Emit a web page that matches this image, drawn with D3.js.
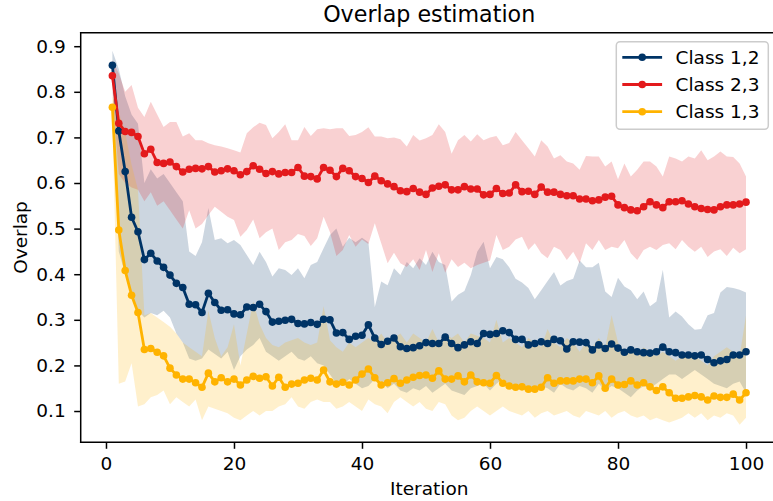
<!DOCTYPE html>
<html>
<head>
<meta charset="utf-8">
<script src="https://cdn.jsdelivr.net/npm/d3@7"></script>
<style>
  body { margin: 0; background: #fff; }
  svg { display: block; }
  text { font-family: "DejaVu Sans", sans-serif; fill: #000; }
</style>
</head>
<body>
<svg id="chart" width="773" height="501"></svg>
<script>
// Iteration index 1..100
const iterations = d3.range(1, 101);

// Class 1,2 — mean overlap and spread
const overlap12 = [0.858,0.714,0.625,0.525,0.493,0.432,0.446,0.429,0.415,0.398,0.380,0.371,0.334,0.333,0.316,0.358,0.338,0.321,0.322,0.313,0.311,0.328,0.327,0.334,0.318,0.295,0.297,0.299,0.301,0.292,0.291,0.294,0.290,0.301,0.300,0.271,0.272,0.257,0.264,0.266,0.289,0.260,0.246,0.253,0.260,0.241,0.237,0.239,0.243,0.250,0.248,0.248,0.262,0.248,0.239,0.245,0.252,0.248,0.270,0.268,0.270,0.276,0.272,0.257,0.257,0.245,0.248,0.252,0.248,0.257,0.254,0.236,0.252,0.251,0.250,0.234,0.245,0.237,0.247,0.238,0.229,0.234,0.230,0.228,0.227,0.230,0.240,0.230,0.228,0.223,0.223,0.221,0.223,0.213,0.206,0.210,0.213,0.223,0.223,0.230];
const upper12 = [0.890,0.850,0.790,0.750,0.730,0.600,0.630,0.610,0.620,0.600,0.580,0.560,0.450,0.440,0.470,0.545,0.475,0.479,0.468,0.475,0.464,0.442,0.420,0.449,0.427,0.395,0.413,0.409,0.398,0.413,0.391,0.420,0.427,0.457,0.486,0.500,0.460,0.480,0.470,0.480,0.470,0.328,0.384,0.376,0.413,0.398,0.427,0.413,0.435,0.420,0.449,0.427,0.420,0.340,0.355,0.363,0.398,0.449,0.471,0.413,0.438,0.433,0.415,0.390,0.382,0.370,0.345,0.365,0.385,0.405,0.375,0.385,0.390,0.430,0.415,0.415,0.425,0.362,0.350,0.392,0.373,0.365,0.345,0.362,0.330,0.340,0.410,0.305,0.318,0.307,0.290,0.278,0.280,0.310,0.315,0.360,0.372,0.370,0.366,0.360];
const lower12 = [0.830,0.450,0.400,0.350,0.320,0.305,0.315,0.310,0.320,0.305,0.270,0.250,0.215,0.210,0.215,0.235,0.225,0.215,0.230,0.190,0.220,0.235,0.245,0.260,0.230,0.220,0.210,0.220,0.230,0.215,0.210,0.220,0.205,0.200,0.180,0.160,0.155,0.170,0.160,0.150,0.155,0.170,0.165,0.150,0.160,0.145,0.140,0.150,0.145,0.155,0.140,0.150,0.160,0.145,0.140,0.135,0.150,0.155,0.160,0.145,0.160,0.170,0.150,0.160,0.150,0.140,0.145,0.155,0.150,0.140,0.160,0.150,0.145,0.155,0.150,0.140,0.160,0.145,0.155,0.150,0.140,0.130,0.145,0.155,0.150,0.160,0.170,0.180,0.180,0.170,0.180,0.190,0.180,0.170,0.160,0.155,0.150,0.160,0.165,0.140];

// Class 2,3 — mean overlap and spread
const overlap23 = [0.835,0.731,0.713,0.711,0.702,0.664,0.674,0.645,0.643,0.646,0.636,0.624,0.630,0.632,0.631,0.636,0.624,0.627,0.631,0.627,0.618,0.625,0.638,0.630,0.621,0.625,0.620,0.623,0.623,0.634,0.615,0.614,0.609,0.634,0.628,0.614,0.632,0.627,0.614,0.610,0.601,0.615,0.605,0.598,0.592,0.583,0.581,0.588,0.580,0.575,0.589,0.593,0.596,0.585,0.585,0.592,0.587,0.587,0.574,0.575,0.588,0.577,0.578,0.596,0.581,0.582,0.575,0.591,0.580,0.580,0.575,0.572,0.572,0.565,0.565,0.561,0.563,0.569,0.571,0.552,0.546,0.541,0.539,0.548,0.559,0.552,0.546,0.559,0.559,0.561,0.554,0.548,0.544,0.542,0.541,0.548,0.552,0.552,0.554,0.558];
const upper23 = [0.870,0.840,0.800,0.815,0.765,0.745,0.778,0.750,0.723,0.734,0.734,0.702,0.709,0.694,0.694,0.687,0.683,0.680,0.676,0.672,0.667,0.709,0.722,0.732,0.727,0.698,0.712,0.729,0.694,0.694,0.723,0.703,0.718,0.720,0.718,0.720,0.720,0.703,0.705,0.712,0.722,0.702,0.702,0.698,0.700,0.696,0.680,0.705,0.693,0.698,0.705,0.729,0.712,0.664,0.694,0.705,0.691,0.707,0.694,0.700,0.703,0.683,0.688,0.712,0.694,0.676,0.658,0.694,0.680,0.654,0.661,0.647,0.643,0.629,0.659,0.658,0.658,0.636,0.647,0.608,0.643,0.614,0.629,0.647,0.647,0.636,0.614,0.658,0.654,0.647,0.658,0.654,0.672,0.650,0.658,0.669,0.658,0.657,0.643,0.614];
const lower23 = [0.800,0.620,0.600,0.590,0.585,0.560,0.580,0.550,0.560,0.540,0.520,0.500,0.540,0.500,0.510,0.530,0.548,0.537,0.526,0.519,0.482,0.497,0.520,0.479,0.492,0.500,0.453,0.470,0.475,0.488,0.484,0.462,0.479,0.526,0.492,0.440,0.453,0.486,0.460,0.476,0.466,0.512,0.468,0.424,0.447,0.424,0.416,0.433,0.409,0.453,0.405,0.446,0.403,0.433,0.416,0.425,0.413,0.420,0.425,0.430,0.486,0.453,0.460,0.476,0.482,0.453,0.468,0.446,0.435,0.460,0.453,0.431,0.449,0.424,0.468,0.453,0.475,0.453,0.460,0.457,0.475,0.446,0.431,0.453,0.460,0.453,0.464,0.468,0.455,0.475,0.460,0.449,0.460,0.438,0.450,0.455,0.440,0.458,0.446,0.455];

// Class 1,3 — mean overlap and spread
const overlap13 = [0.766,0.497,0.408,0.354,0.316,0.235,0.237,0.229,0.221,0.194,0.179,0.170,0.170,0.162,0.152,0.183,0.164,0.173,0.164,0.170,0.157,0.168,0.176,0.172,0.175,0.155,0.174,0.152,0.159,0.161,0.168,0.172,0.168,0.190,0.164,0.159,0.163,0.157,0.168,0.181,0.192,0.173,0.157,0.162,0.171,0.161,0.168,0.174,0.178,0.179,0.172,0.188,0.170,0.170,0.177,0.164,0.179,0.164,0.162,0.161,0.178,0.161,0.155,0.152,0.153,0.148,0.148,0.152,0.173,0.161,0.166,0.166,0.166,0.170,0.170,0.162,0.177,0.150,0.170,0.157,0.158,0.166,0.157,0.162,0.153,0.145,0.153,0.140,0.128,0.128,0.131,0.134,0.131,0.124,0.133,0.130,0.130,0.137,0.124,0.140];
const upper13 = [0.790,0.755,0.710,0.640,0.585,0.310,0.315,0.305,0.295,0.285,0.270,0.250,0.240,0.230,0.220,0.320,0.260,0.220,0.240,0.290,0.200,0.270,0.340,0.290,0.260,0.245,0.240,0.250,0.255,0.260,0.250,0.245,0.250,0.330,0.255,0.240,0.230,0.250,0.240,0.250,0.260,0.250,0.270,0.250,0.260,0.270,0.250,0.270,0.260,0.250,0.280,0.250,0.270,0.260,0.270,0.250,0.270,0.265,0.260,0.250,0.300,0.250,0.260,0.250,0.240,0.260,0.250,0.240,0.280,0.250,0.240,0.260,0.250,0.230,0.250,0.240,0.260,0.240,0.310,0.250,0.230,0.240,0.220,0.240,0.230,0.220,0.230,0.220,0.210,0.220,0.230,0.220,0.210,0.200,0.220,0.230,0.240,0.230,0.220,0.310];
const lower13 = [0.740,0.160,0.165,0.205,0.110,0.115,0.130,0.135,0.145,0.115,0.130,0.120,0.110,0.125,0.080,0.110,0.105,0.100,0.095,0.085,0.080,0.090,0.100,0.090,0.100,0.100,0.110,0.115,0.130,0.110,0.105,0.120,0.125,0.120,0.120,0.105,0.110,0.120,0.110,0.100,0.125,0.115,0.110,0.095,0.120,0.130,0.120,0.110,0.120,0.105,0.100,0.120,0.115,0.090,0.080,0.085,0.100,0.110,0.100,0.090,0.100,0.110,0.100,0.095,0.090,0.100,0.085,0.095,0.100,0.090,0.095,0.100,0.090,0.085,0.100,0.095,0.090,0.100,0.085,0.095,0.100,0.090,0.085,0.090,0.080,0.085,0.080,0.075,0.080,0.085,0.095,0.085,0.095,0.080,0.090,0.085,0.095,0.090,0.070,0.085];

const seriesNames = ["Class 1,2", "Class 2,3", "Class 1,3"];
const seriesColors = ["#003466", "#e31a1c", "#ffb300"];
const xTicks = [0, 20, 40, 60, 80, 100];
const yTicks = [0.1, 0.2, 0.3, 0.4, 0.5, 0.6, 0.7, 0.8, 0.9];

const series = [
  { name: seriesNames[0], color: seriesColors[0], mean: overlap12, hi: upper12, lo: lower12 },
  { name: seriesNames[1], color: seriesColors[1], mean: overlap23, hi: upper23, lo: lower23 },
  { name: seriesNames[2], color: seriesColors[2], mean: overlap13, hi: upper13, lo: lower13 }
];

// Axes box (right edge runs just past the canvas)
const box = { left: 80.7, right: 777.7, top: 32.7, bottom: 442.3 };
const FS = 18.5;

const svg = d3.select("#chart");

const x = d3.scaleLinear().domain([-3.95, 104.95]).range([box.left, box.right]);
const y = d3.scaleLinear().domain([0.0314, 0.9296]).range([box.bottom, box.top]);

svg.append("defs").append("clipPath").attr("id", "plotclip")
  .append("rect")
  .attr("x", box.left).attr("y", box.top)
  .attr("width", box.right - box.left).attr("height", box.bottom - box.top);

const plot = svg.append("g").attr("clip-path", "url(#plotclip)");

// Shaded spread bands
const band = (s) => d3.area()
  .x((d, i) => x(iterations[i]))
  .y0((d, i) => y(s.lo[i]))
  .y1((d, i) => y(s.hi[i]))(iterations);

series.forEach(s => {
  plot.append("path")
    .attr("d", band(s))
    .attr("fill", s.color)
    .attr("fill-opacity", 0.2)
    .attr("stroke", "none");
});

// Mean lines with point markers
const line = d3.line().x((d, i) => x(iterations[i])).y(d => y(d));
series.forEach(s => {
  const g = plot.append("g");
  g.append("path")
    .attr("d", line(s.mean))
    .attr("fill", "none")
    .attr("stroke", s.color)
    .attr("stroke-width", 2.8)
    .attr("stroke-linejoin", "round")
    .attr("stroke-linecap", "square");
  g.selectAll("circle").data(s.mean).join("circle")
    .attr("cx", (d, i) => x(iterations[i]))
    .attr("cy", d => y(d))
    .attr("r", 3.8)
    .attr("fill", s.color);
});

// Axes
const xAxis = d3.axisBottom(x).tickValues(xTicks).tickFormat(d3.format("d"))
  .tickSize(6.5).tickPadding(8);
const yAxis = d3.axisLeft(y).tickValues(yTicks).tickFormat(d3.format(".1f"))
  .tickSize(6.5).tickPadding(8.5);

const gx = svg.append("g").attr("transform", `translate(0,${box.bottom})`).call(xAxis);
const gy = svg.append("g").attr("transform", `translate(${box.left},0)`).call(yAxis);
[gx, gy].forEach(g => {
  g.select(".domain").remove();
  g.selectAll(".tick line").attr("stroke", "#000").attr("stroke-width", 1.5);
  g.selectAll(".tick text")
    .attr("font-family", "DejaVu Sans, sans-serif")
    .attr("font-size", FS)
    .attr("fill", "#000");
});

// Spines
const spine = svg.append("g").attr("stroke", "#000").attr("stroke-width", 1.5)
  .attr("fill", "none").attr("stroke-linecap", "square");
spine.append("line").attr("x1", box.left).attr("x2", box.left).attr("y1", box.top).attr("y2", box.bottom);
spine.append("line").attr("x1", box.left).attr("x2", box.right).attr("y1", box.bottom).attr("y2", box.bottom);
spine.append("line").attr("x1", box.left).attr("x2", box.right).attr("y1", box.top).attr("y2", box.top);
spine.append("line").attr("x1", box.right).attr("x2", box.right).attr("y1", box.top).attr("y2", box.bottom);

// Titles
const cx = (box.left + box.right) / 2;
svg.append("text").attr("x", cx).attr("y", 22)
  .attr("text-anchor", "middle").attr("font-size", FS * 1.2)
  .text("Overlap estimation");
svg.append("text").attr("x", cx).attr("y", 495)
  .attr("text-anchor", "middle").attr("font-size", FS)
  .text("Iteration");
svg.append("text")
  .attr("transform", `translate(27,${(box.top + box.bottom) / 2}) rotate(-90)`)
  .attr("text-anchor", "middle").attr("font-size", FS)
  .text("Overlap");

// Legend
const lg = { x0: 616.3, y0: 41.7, w: 152, h: 87.6, rowY: [57.3, 84.5, 111.7] };
const legend = svg.append("g");
legend.append("rect")
  .attr("x", lg.x0).attr("y", lg.y0).attr("width", lg.w).attr("height", lg.h)
  .attr("rx", 3.7).attr("ry", 3.7)
  .attr("fill", "#fff").attr("fill-opacity", 0.8)
  .attr("stroke", "#cccccc").attr("stroke-width", 1.5);
series.forEach((s, k) => {
  const ry = lg.rowY[k];
  legend.append("line")
    .attr("x1", lg.x0 + 7.4).attr("x2", lg.x0 + 7.4 + 37)
    .attr("y1", ry).attr("y2", ry)
    .attr("stroke", s.color).attr("stroke-width", 2.8).attr("stroke-linecap", "square");
  legend.append("circle")
    .attr("cx", lg.x0 + 7.4 + 18.5).attr("cy", ry).attr("r", 3.8)
    .attr("fill", s.color);
  legend.append("text")
    .attr("x", lg.x0 + 7.4 + 37 + 14.8).attr("y", ry).attr("dy", "0.36em")
    .attr("font-size", FS)
    .text(s.name);
});
</script>
</body>
</html>
